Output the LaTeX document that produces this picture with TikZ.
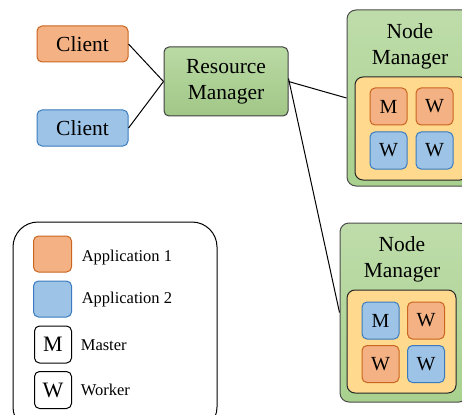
\documentclass[tikz,border=0pt]{standalone}
\usepackage{xcolor}
\usepackage{fontspec}
\setmainfont{Liberation Serif}
\usepackage{tikz}

\definecolor{appone}{HTML}{F4B183}
\definecolor{apponeline}{HTML}{C9651F}
\definecolor{apptwo}{HTML}{9DC3E6}
\definecolor{apptwoline}{HTML}{3A7BBF}
\definecolor{nmgreen}{HTML}{A9D18E}
\definecolor{poolyellow}{HTML}{FFD98E}

\begin{document}
\begin{tikzpicture}[x=1pt, y=-1pt, line width=1pt,
    box/.style={draw, rounded corners=5pt, align=center, inner sep=0pt},
    bigtext/.style={font=\fontsize{21.5}{26}\selectfont},
    client/.style={box, bigtext, minimum width=91pt, minimum height=36pt},
    cell/.style={box, font=\fontsize{20}{22}\selectfont, minimum width=37pt, minimum height=37pt},
    orange/.style={fill=appone, draw=apponeline},
    blue/.style={fill=apptwo, draw=apptwoline},
    manager/.style={box, rounded corners=9pt, draw=black!70, top color=nmgreen!75, bottom color=nmgreen},
    pool/.style={box, rounded corners=8pt, draw=black!85, fill=poolyellow},
    legtext/.style={anchor=west, font=\fontsize{16.5}{18}\selectfont}]
    \useasboundingbox (0,0) rectangle (462,414);

    % Clients
    \node[client, orange] (cl1) at (82.5,44) {Client};
    \node[client, blue] (cl2) at (82.5,128) {Client};

    % Resource manager
    \node[box, bigtext, draw=black!75, top color=nmgreen!80, bottom color=nmgreen!95!black,
          minimum width=124pt, minimum height=69pt] (rm) at (226,81.5) {Resource\\Manager};

    % Node manager 1
    \node[manager, minimum width=128pt, minimum height=176pt] (nm1) at (411,98) {};
    \node[bigtext, align=center] (nm1t) at (410,46) {Node\\Manager};
    \node[pool, minimum width=113pt, minimum height=103pt] (p1) at (411.5,128.5) {};
    \node[cell, orange] (m1) at (388.5,106.5) {M};
    \node[cell, orange] (w11) at (434.5,106.5) {W};
    \node[cell, blue] (w12) at (388.5,150.5) {W};
    \node[cell, blue] (w13) at (434.5,150.5) {W};

    % Node manager 2
    \node[manager, minimum width=128pt, minimum height=179pt] (nm2) at (404,312.5) {};
    \node[bigtext, align=center] (nm2t) at (402,259.5) {Node\\Manager};
    \node[pool, minimum width=109pt, minimum height=103pt] (p2) at (401.5,341.5) {};
    \node[cell, blue] (m2) at (380.5,320.5) {M};
    \node[cell, orange] (w21) at (426,320.5) {W};
    \node[cell, orange] (w22) at (380.5,364) {W};
    \node[cell, blue] (w23) at (426,364) {W};

    % Connections
    \draw (cl1.east) -- (rm.west);
    \draw (cl2.east) -- (rm.west);
    \draw (rm.east) -- (nm1.west);
    \draw ([yshift=3pt]rm.east) -- (nm2.west);

    % Legend
    \node[draw, rounded corners=25pt, minimum width=204pt, minimum height=210pt] (leg) at (115,327) {};
    \node[box, orange, minimum width=38pt, minimum height=36pt] (k1) at (52.5,254) {};
    \node[legtext] (k1t) at (78,258) {Application 1};
    \node[box, blue, minimum width=38pt, minimum height=36pt] (k2) at (52.5,299) {};
    \node[legtext] (k2t) at (78,300) {Application 2};
    \node[cell, font=\fontsize{22}{24}\selectfont] (k3) at (53,344.5) {M};
    \node[legtext] (k3t) at (77,345) {Master};
    \node[cell, font=\fontsize{22}{24}\selectfont] (k4) at (53,390) {W};
    \node[legtext] (k4t) at (77,390) {Worker};
\end{tikzpicture}
\end{document}
